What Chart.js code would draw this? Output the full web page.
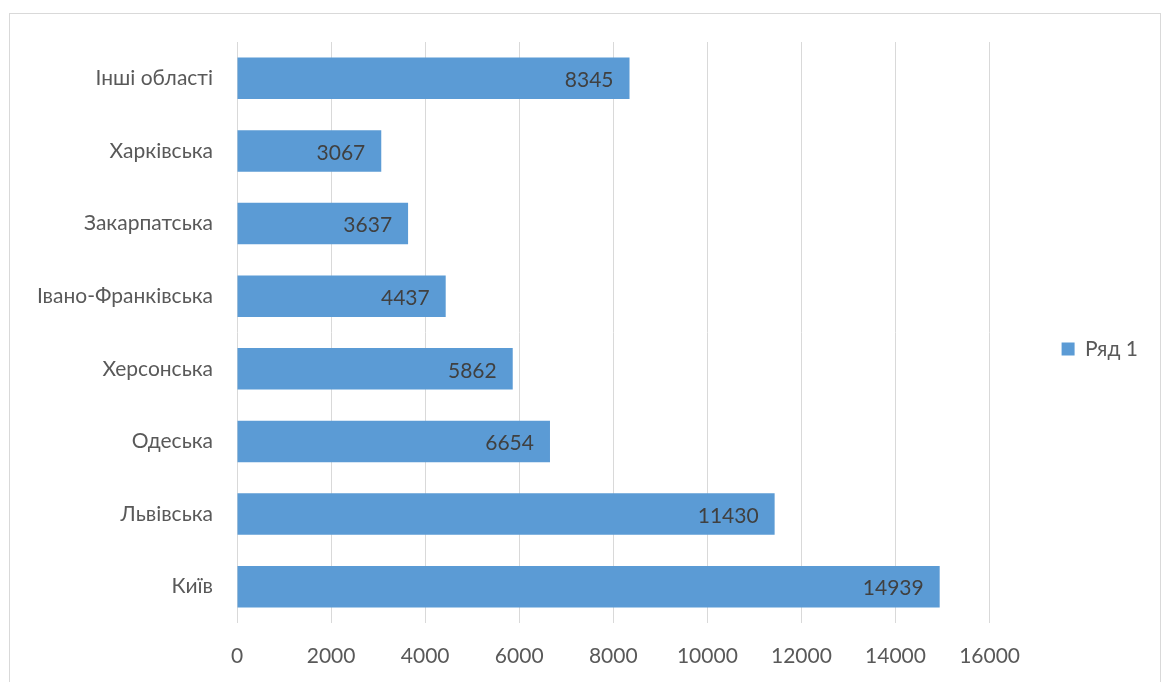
<!DOCTYPE html>
<html>
<head>
<meta charset="utf-8">
<script src="https://cdn.jsdelivr.net/npm/chart.js@4.4.0/dist/chart.umd.min.js"></script>
<style>
    html, body { margin: 0; padding: 0; background: #fff; overflow: hidden; }
    #frame { position: absolute; left: 9px; top: 13px; width: 1150px; height: 680px; border: 1px solid #d9d9d9; }
    #wrap { position: absolute; left: 0; top: 0; width: 1150px; height: 668px; }
</style>
</head>
<body>
<div id="frame"><div id="wrap"><canvas id="chart"></canvas></div></div>
<script>
// дані з діаграми
const categories = ['Інші області', 'Харківська', 'Закарпатська', 'Івано-Франківська', 'Херсонська', 'Одеська', 'Львівська', 'Київ'];
const values = [8345, 3067, 3637, 4437, 5862, 6654, 11430, 14939];
const seriesName = 'Ряд 1';
const xMin = 0, xMax = 16000, xStep = 2000;

const FONT = 'Lato';
const barColor = '#5b9bd5';

// підписи значень всередині кінця стовпця
const valueLabels = {
    id: 'valueLabels',
    afterDatasetsDraw(chart) {
        const ctx = chart.ctx;
        const meta = chart.getDatasetMeta(0);
        ctx.save();
        ctx.font = '21px ' + FONT;
        ctx.fillStyle = '#404040';
        ctx.textAlign = 'right';
        ctx.textBaseline = 'middle';
        meta.data.forEach((bar, i) => {
            ctx.fillText(String(values[i]), bar.x - 16, bar.y + 2);
        });
        ctx.restore();
    }
};

const ctx = document.getElementById('chart').getContext('2d');
const chart = new Chart(ctx, {
    type: 'bar',
    data: {
        labels: categories,
        datasets: [{
            label: seriesName,
            data: values,
            backgroundColor: barColor,
            borderWidth: 0,
            categoryPercentage: 1,
            barPercentage: 0.57
        }]
    },
    options: {
        indexAxis: 'y',
        responsive: true,
        maintainAspectRatio: false,
        animation: false,
        layout: { padding: { top: 2, right: 12, bottom: 0, left: 0 } },
        scales: {
            x: {
                min: xMin, max: xMax,
                ticks: {
                    stepSize: xStep, color: '#595959', font: { family: FONT, size: 21 }, padding: 21,
                    callback: (v) => String(v)
                },
                grid: { color: '#d9d9d9', drawTicks: false },
                border: { display: false },
                afterFit(scale) { scale.height = 59; scale.paddingLeft = 0; scale.paddingRight = 0; }
            },
            y: {
                ticks: { color: '#595959', font: { family: FONT, size: 21 }, padding: 24 },
                grid: { display: false, drawTicks: false },
                border: { display: false },
                afterFit(scale) { scale.width = 227; scale.paddingTop = 0; scale.paddingBottom = 0; }
            }
        },
        plugins: {
            // порожній заголовок лише як відступ зверху над областю графіка
            title: { display: true, text: '', fullSize: false, font: { size: 1, lineHeight: 1 }, padding: { top: 25, bottom: 0 } },
            legend: {
                position: 'right',
                labels: {
                    boxWidth: 13, boxHeight: 13,
                    padding: 72,
                    color: '#595959',
                    font: { family: FONT, size: 21 }
                }
            },
            tooltip: { enabled: false }
        }
    },
    plugins: [valueLabels]
});
</script>
</body>
</html>
